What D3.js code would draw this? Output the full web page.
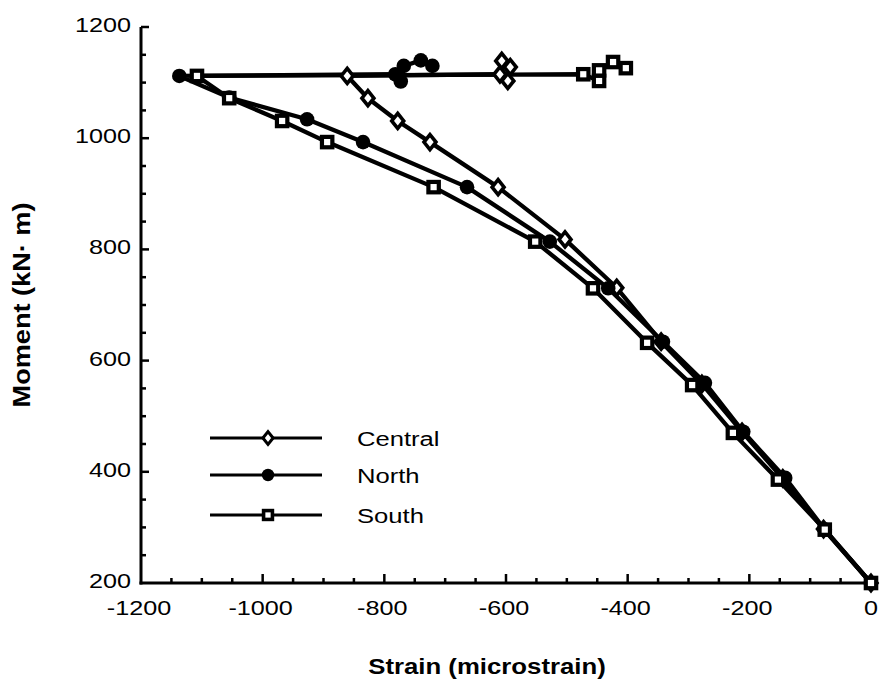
<!DOCTYPE html>
<html><head><meta charset="utf-8">
<script src="https://cdn.jsdelivr.net/npm/d3@7"></script>
<style>body{margin:0;background:#fff}svg{display:block}text{font-family:"Liberation Sans",Arial,sans-serif;fill:#000}</style>
</head><body><svg id="c" width="880" height="683"></svg>
<script>
const seriesNames = ["Central","North","South"];
const xTicks = [-1200,-1000,-800,-600,-400,-200,0];
const yTicks = [200,400,600,800,1000,1200];
const centralStrain = [0,-78,-145,-212,-278,-345,-418,-503,-613,-725,-778,-827,-861,-610,-597,-593,-607];
const centralMoment = [200,297,388,472,558,634,731,818,912,993,1031,1072,1112,1115,1103,1128,1139];
const northStrain = [0,-76,-141,-210,-273,-342,-432,-528,-664,-835,-927,-1055,-1137,-782,-773,-768,-740,-721];
const northMoment = [200,296,389,472,560,634,730,814,912,993,1034,1073,1112,1115,1102,1130,1140,1130];
const southStrain = [0,-76,-153,-227,-294,-368,-457,-552,-719,-894,-968,-1055,-1108,-473,-447,-447,-424,-403];
const southMoment = [200,296,386,470,556,632,730,814,912,993,1031,1072,1112,1115,1103,1122,1137,1126];

const svg = d3.select("#c");
const x = d3.scaleLinear().domain([-1200,0]).range([141,871]);
const y = d3.scaleLinear().domain([200,1200]).range([583,27]);

function txt(tx, ty, s, size, sx, anchor, bold, rot){
  const t = svg.append("text")
    .attr("transform", `translate(${tx},${ty})` + (rot?` rotate(${rot})`:"") + ` scale(${sx},1)`)
    .attr("text-anchor", anchor).attr("font-size", size).text(s);
  if(bold) t.attr("font-weight","bold");
  return t;
}

// axes
const gx = svg.append("g");
gx.append("line").attr("x1",x(-1200)-1.5).attr("x2",x(0)).attr("y1",y(200)).attr("y2",y(200)).attr("stroke","#000").attr("stroke-width",3);
const gy = svg.append("g");
gy.append("line").attr("x1",x(-1200)).attr("x2",x(-1200)).attr("y1",y(200)+1.5).attr("y2",y(1200)).attr("stroke","#000").attr("stroke-width",3);
d3.range(-1200,1,50).forEach(v=>{
  const major = v%200===0;
  if(v===-1200) return;
  gx.append("line").attr("x1",x(v)).attr("x2",x(v)).attr("y1",y(200)).attr("y2",y(200)-(major?9:5)).attr("stroke","#000").attr("stroke-width",2.5);
});
d3.range(200,1201,50).forEach(v=>{
  const major = v%200===0;
  if(v===200) return;
  gy.append("line").attr("x1",x(-1200)).attr("x2",x(-1200)+(major?8:5)).attr("y1",y(v)).attr("y2",y(v)).attr("stroke","#000").attr("stroke-width",2.5);
});
xTicks.forEach(v=>{
  txt(x(v)+ (v===0?0:-2), y(200)+32, v, 21, 1.2, "middle");
});
yTicks.forEach(v=>{
  txt(x(-1200)-10, y(v)+5, v, 21, 1.2, "end");
});
txt(487, 674, "Strain (microstrain)", 23, 1.12, "middle", true);
txt(30, 305, "Moment (kN\u00b7 m)", 23, 1.18, "middle", true, -90);

const line = d3.line().x(d=>x(d[0])).y(d=>y(d[1]));
const data = [
  {name:"Central", pts:d3.zip(centralStrain,centralMoment), sym:"diamond"},
  {name:"North", pts:d3.zip(northStrain,northMoment), sym:"circle"},
  {name:"South", pts:d3.zip(southStrain,southMoment), sym:"square"}
];
function marker(g, sym, cx, cy, k){
  k = k||1;
  if(sym==="circle") g.append("circle").attr("cx",cx).attr("cy",cy).attr("r",7.3*k).attr("fill","#000");
  else if(sym==="square") g.append("rect").attr("x",cx-5.2*k).attr("y",cy-5.2*k).attr("width",10.4*k).attr("height",10.4*k).attr("fill","#fff").attr("stroke","#000").attr("stroke-width",4.2*k);
  else g.append("path").attr("d",`M${cx},${cy-7.5*k}L${cx+6*k},${cy}L${cx},${cy+7.5*k}L${cx-6*k},${cy}Z`).attr("fill","#fff").attr("stroke","#000").attr("stroke-width",3.6*k);
}
data.forEach(s=>{
  svg.append("path").attr("d",line(s.pts)).attr("fill","none").attr("stroke","#000").attr("stroke-width",4.3).attr("stroke-linejoin","round");
});
data.forEach(s=>{
  const g = svg.append("g");
  s.pts.forEach(p=>marker(g,s.sym,x(p[0]),y(p[1])));
});
// legend
const ly = [438,475,515];
data.forEach((s,i)=>{
  svg.append("line").attr("x1",210).attr("x2",322).attr("y1",ly[i]).attr("y2",ly[i]).attr("stroke","#000").attr("stroke-width",3);
  marker(svg,s.sym,268,ly[i],0.85);
  txt(357, ly[i]+8, s.name, 21, 1.22, "start");
});
</script></body></html>
